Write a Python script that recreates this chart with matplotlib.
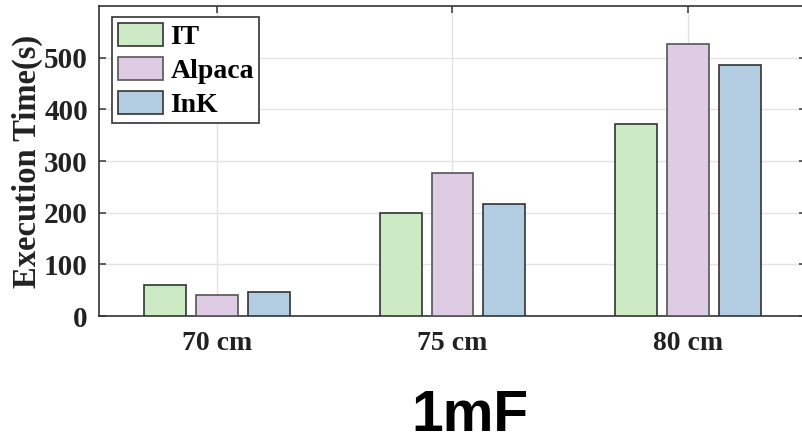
import matplotlib
matplotlib.use("Agg")
import matplotlib.pyplot as plt
import numpy as np

categories = ["70 cm", "75 cm", "80 cm"]
series_names = ["IT", "Alpaca", "InK"]
it_vals = [60, 200, 371]
alpaca_vals = [41, 277, 527]
ink_vals = [46, 217, 486]
colors = ["#CCEBC5", "#DECBE4", "#B3CDE3"]
edges = ["#333333", "#555555", "#333333"]
yticks = [0, 100, 200, 300, 400, 500]

plt.rcParams["font.family"] = ["Liberation Serif", "DejaVu Serif"]
plt.rcParams["font.weight"] = "bold"

fig = plt.figure(figsize=(8.02, 4.40), dpi=100)
ax = fig.add_axes([99 / 802, 124 / 440, 707 / 802, 310 / 440])

x = np.arange(1, len(categories) + 1)
width = 0.178
offset = 0.22
for i, (vals, name) in enumerate(zip([it_vals, alpaca_vals, ink_vals], series_names)):
    ax.bar(x + (i - 1) * offset, vals, width, color=colors[i], edgecolor=edges[i],
           linewidth=1.2, label=name, zorder=3)

ax.set_xlim(0.5, 3.5)
ax.set_ylim(0, 600)
ax.set_xticks(x)
ax.set_xticklabels(categories, fontsize=20, fontweight="bold")
ax.set_yticks(yticks)
ax.set_yticklabels([str(v) for v in yticks], fontsize=21, fontweight="bold")
ax.tick_params(axis="both", direction="in", length=5, width=1.2, color="#444444",
               top=True, right=True, labelcolor="#222222")
ax.tick_params(axis="x", pad=11)
ax.tick_params(axis="y", pad=8)
ax.grid(True, color="#e3e3e3", linewidth=1.0, zorder=0)
for s in ax.spines.values():
    s.set_color("#333333")
    s.set_linewidth(1.2)

ax.set_ylabel("Execution Time(s)", fontsize=23.5, fontweight="bold", color="#222222", labelpad=1)

leg = ax.legend(loc="upper left", bbox_to_anchor=(13 / 707, 299 / 310), fontsize=20,
                frameon=True, fancybox=False, edgecolor="#333333", framealpha=1,
                handlelength=1.65, handleheight=0.9, handletextpad=0.25,
                labelspacing=0.25, borderpad=0.2, borderaxespad=0)
leg.get_frame().set_linewidth(1.2)
for t in leg.get_texts():
    t.set_fontweight("bold")

fig.text(0.5854, 9 / 440, "1mF", fontsize=41, fontweight="bold", family="Liberation Sans",
         ha="center", va="baseline")

fig.savefig("out.png", dpi=100)
